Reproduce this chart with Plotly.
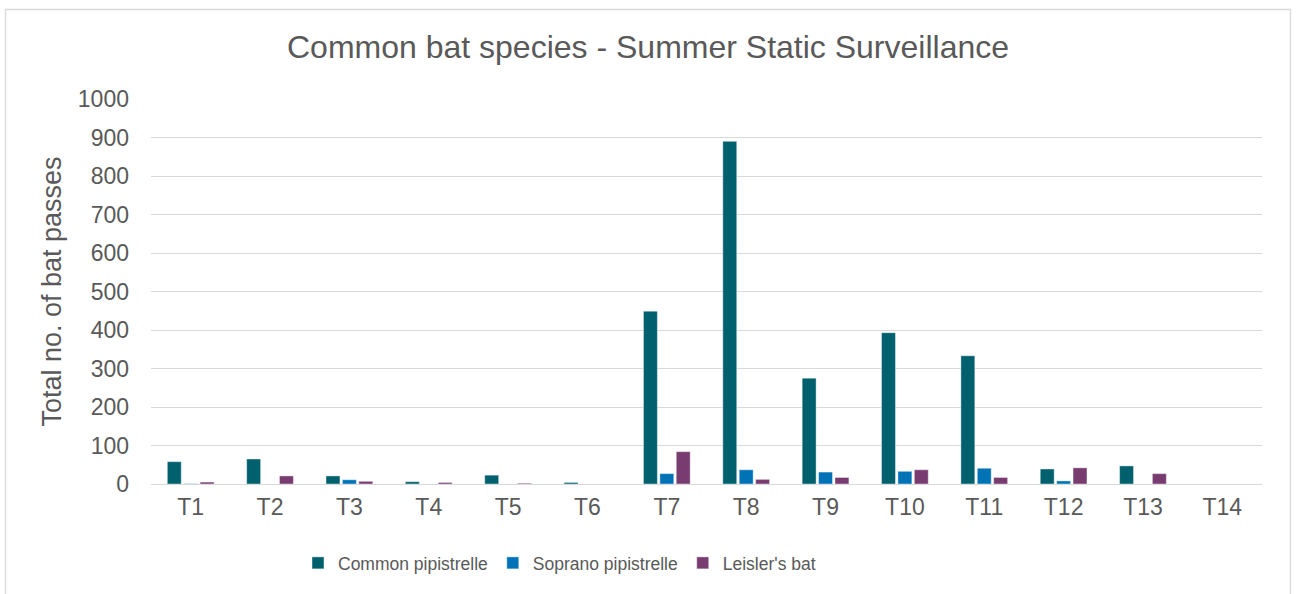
import plotly.graph_objects as go

categories = ["T1", "T2", "T3", "T4", "T5", "T6", "T7", "T8", "T9", "T10", "T11", "T12", "T13", "T14"]
common_pipistrelle = [58, 65, 21, 6, 23, 4, 449, 890, 275, 393, 333, 39, 47, 0]
soprano_pipistrelle = [1, 0, 11, 0, 0, 0, 27, 37, 31, 33, 41, 8, 0, 0]
leislers_bat = [5, 21, 7, 4, 2, 0, 84, 12, 17, 37, 17, 42, 27, 0]
y_ticks = [0, 100, 200, 300, 400, 500, 600, 700, 800, 900, 1000]

series = [
    ("Common pipistrelle", common_pipistrelle, "#00606E"),
    ("Soprano pipistrelle", soprano_pipistrelle, "#0073B6"),
    ("Leisler's bat", leislers_bat, "#783C71"),
]

FONT = "Liberation Sans, Arial, sans-serif"
TXT = "#595959"

fig = go.Figure()
for name, vals, col in series:
    fig.add_trace(go.Bar(
        x=categories, y=vals, name=name,
        marker=dict(color=col, line=dict(width=0.6, color="rgba(255,255,255,0.7)")),
    ))

fig.update_layout(
    width=1296, height=594,
    paper_bgcolor="white", plot_bgcolor="white",
    margin=dict(l=151, r=34, t=99, b=110),
    barmode="group", bargap=0.38, bargroupgap=0.15,
    font=dict(family=FONT, color=TXT),
    title=dict(text="Common bat species - Summer Static Surveillance",
               x=0.5, xref="container", xanchor="center",
               y=1 - 47 / 594, yref="container", yanchor="middle",
               font=dict(size=32, color=TXT, family=FONT)),
    showlegend=True,
    legend=dict(orientation="h", x=(298 - 151) / 1111, xanchor="left",
                y=(484 - 563) / 385, yanchor="middle",
                font=dict(size=17.5, color=TXT, family=FONT),
                traceorder="normal", itemwidth=30),
    xaxis=dict(showgrid=False, showline=False, ticks="",
               tickfont=dict(size=23, color=TXT, family=FONT),
               ticklabelstandoff=7),
    yaxis=dict(range=[0, 1000], tickvals=y_ticks, showgrid=True,
               gridcolor="#D9D9D9", gridwidth=1.3,
               zeroline=True, zerolinecolor="#D9D9D9", zerolinewidth=1.3,
               showline=False, ticks="",
               tickfont=dict(size=23, color=TXT, family=FONT),
               ticklabelstandoff=21,
               title=dict(text="Total no. of bat passes", standoff=8,
                          font=dict(size=27, color=TXT, family=FONT))),
    shapes=[dict(type="rect", xref="paper", yref="paper",
                 x0=(5.5 - 151) / 1111, x1=(1290.5 - 151) / 1111,
                 y0=-0.5, y1=(484 - 9.5) / 385,
                 line=dict(color="#D9D9D9", width=1.3), fillcolor="rgba(0,0,0,0)",
                 layer="below")],
)

fig.write_html("out.html", config={"displayModeBar": False},
               post_script="document.body.style.margin='0';document.body.style.overflow='hidden';")
